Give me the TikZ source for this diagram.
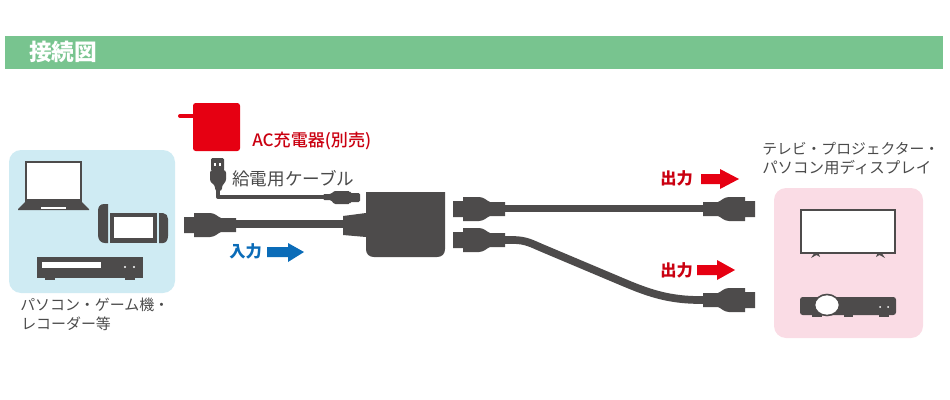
\documentclass[tikz,border=0pt]{standalone}
\usepackage{fontspec}
\setmainfont{Noto Sans CJK JP}
\newfontfamily\jpmed{Noto Sans CJK JP Medium}
\definecolor{dk}{HTML}{4D4B4B}
\definecolor{txt}{HTML}{4A4A4A}
\definecolor{barg}{HTML}{78C48F}
\definecolor{lblue}{HTML}{CFEBF3}
\definecolor{lpink}{HTML}{FADCE5}
\definecolor{rd}{HTML}{E60012}
\definecolor{bl}{HTML}{0B6CB8}
\newcommand{\hdmi}[3]{%
\begin{scope}[shift={(#1,#2)},xscale=#3]
\fill[dk] (0,-8) -- (10,-8) -- (10,-12) -- (26,-12) .. controls (31,-12) and (34,-8) .. (37,-7) -- (52,-7) -- (52,7) -- (37,7) .. controls (34,8) and (31,12) .. (26,12) -- (10,12) -- (10,8) -- (0,8) -- cycle;
\end{scope}}
\tikzset{
 lbl/.style={anchor=west,inner sep=0pt,text=txt,font=\fontsize{11.2}{14}\selectfont},
 head/.style={anchor=west,inner sep=0pt,font=\bfseries\fontsize{12.2}{14}\selectfont},
 cable/.style={draw=dk,line width=5.8pt},
 thin cable/.style={draw=dk,line width=3pt},
}
\begin{document}
\begin{tikzpicture}[x=0.75pt,y=-0.75pt]
\useasboundingbox (0,0) rectangle (950,400);
% title bar
\fill[barg] (5,36) rectangle (943,69);
\node[anchor=west,inner sep=0pt,text=white,font=\bfseries\fontsize{17}{19}\selectfont] (title) at (29,52) {接続図};
% source panel
\fill[lblue,rounded corners=9pt] (9,150) rectangle (175,293);
% laptop
\fill[dk] (25,161) rectangle (82,203);
\fill[white] (27,163) rectangle (80,199);
\fill[dk] (25,202) -- (82,202) -- (89,209) -- (89,210) -- (18,210) -- (18,209) -- cycle;
\fill[white] (41,207) rectangle (66,209);
% game console
\fill[dk] (108,204) -- (104,204) .. controls (100,204) and (98,207) .. (98,211) -- (98,235) .. controls (98,240) and (101,243) .. (105,243) -- (108,243) -- cycle;
\fill[dk] (110,213) rectangle (157,243);
\fill[white] (114,217) rectangle (153,238);
\fill[dk] (159,213) -- (163,213) .. controls (166,213) and (168,216) .. (168,219) -- (168,236) .. controls (168,240) and (166,243) .. (163,243) -- (159,243) -- cycle;
% recorder
\fill[dk] (37,257) rectangle (143,278);
\fill[dk] (45,278) rectangle (55,280);
\fill[dk] (125,278) rectangle (135,280);
\fill[white] (42,262) rectangle (101,268);
\fill[white] (125,267) circle (1.2);
\fill[white] (134,267) circle (1.2);
\node[lbl] (srcA) at (20,305) {パソコン・ゲーム機・};
\node[lbl] (srcB) at (21,324) {レコーダー等};
% charger
\fill[rd,rounded corners=2pt] (193,103) rectangle (240,151);
\draw[rd,line width=3pt,line cap=round] (180,116) -- (194,116);
\node[anchor=west,inner sep=0pt,text=rd!88!black,font=\jpmed\fontsize{12.8}{14}\selectfont] (ac) at (252,141) {AC充電器(別売)};
% USB plug and power cable
\coordinate (usb) at (218,186);
\coordinate (micro) at (326,197);
\draw[thin cable,line join=round] (usb) -- (218,197) -- (micro);
\fill[dk,rounded corners=1pt] (211,158) rectangle (224,171);
\fill[white] (214,163) rectangle (216,166);
\fill[white] (219,163) rectangle (221,166);
\fill[dk,rounded corners=2pt] (210,170) -- (226,170) -- (226,182) -- (222,185) -- (222,191) -- (215,191) -- (215,185) -- (210,182) -- cycle;
\fill[dk,rounded corners=1pt] (323,194) -- (331,194) -- (334,191) -- (350,191) -- (350,193) -- (360,193) -- (360,202) -- (350,202) -- (350,204) -- (334,204) -- (331,200) -- (323,200) -- cycle;
\node[lbl,font=\fontsize{13.2}{15}\selectfont] (pw) at (232,178.5) {給電用ケーブル};
% input cable
\coordinate (inEnd) at (230,224);
\coordinate (hubIn) at (350,224);
\draw[cable] (inEnd) -- (hubIn);
\hdmi{184}{225}{1}
\fill[dk] (343,216) -- (366,213) -- (366,237) -- (343,235) -- cycle;
% hub
\fill[dk] (366,192) -- (445,192) -- (445,249) .. controls (445,254) and (442,257) .. (437,257) -- (374,257) .. controls (369,257) and (366,254) .. (366,249) -- cycle;
% output cables
\coordinate (a1) at (500,208.5);
\coordinate (a2) at (708,208.5);
\coordinate (b1) at (500,240);
\coordinate (b2) at (708,300);
\draw[cable] (a1) -- (a2);
\draw[cable] (b1) -- (513,240) .. controls (526,240) and (532,243.8) .. (542,248) -- (625,283) .. controls (650,293.5) and (670,300) .. (700,300) -- (b2);
\hdmi{453}{209}{1}
\hdmi{453}{240}{1}
\hdmi{755}{209}{-1}
\hdmi{755}{300}{-1}
% labels and arrows
\node[head,text=bl] (in) at (229,251) {入力};
\fill[bl] (267,247) -- (288,247) -- (288,243) -- (304,252) -- (288,262) -- (288,257) -- (267,257) -- cycle;
\node[head,text=rd!88!black] (o1) at (660,178) {出力};
\fill[rd] (701,174) -- (720,174) -- (720,169) -- (739,179) -- (720,189) -- (720,184) -- (701,184) -- cycle;
\node[head,text=rd!88!black] (o2) at (660,270) {出力};
\fill[rd] (697,265) -- (717,265) -- (717,260) -- (735,270) -- (717,280) -- (717,275) -- (697,275) -- cycle;
% display panel
\fill[lpink,rounded corners=9pt] (774,188) rectangle (923,338);
\node[lbl,font=\fontsize{11.1}{14}\selectfont] (dstA) at (762,149) {テレビ・プロジェクター・};
\node[lbl,font=\fontsize{11.6}{14}\selectfont] (dstB) at (762,168) {パソコン用ディスプレイ};
% TV
\fill[dk] (811,258) -- (815,252) -- (818,252) -- (820,257) -- (816.5,255) -- cycle;
\fill[dk] (885,258) -- (881,252) -- (878,252) -- (876,257) -- (879.5,255) -- cycle;
\fill[white,draw=dk,line width=1.1pt] (801,210) rectangle (895,253);
% projector
\fill[dk,rounded corners=2pt] (800,297) rectangle (896,315);
\fill[dk] (812,315) rectangle (822,316.5);
\fill[dk] (844,315) rectangle (853,316.5);
\fill[dk] (879,315) rectangle (889,316.5);
\fill[white,draw=dk,line width=1.2pt] (827,305) ellipse (12.5 and 10.5);
\fill[white] (880,307) circle (1);
\fill[white] (888,307) circle (1);
\end{tikzpicture}
\end{document}
